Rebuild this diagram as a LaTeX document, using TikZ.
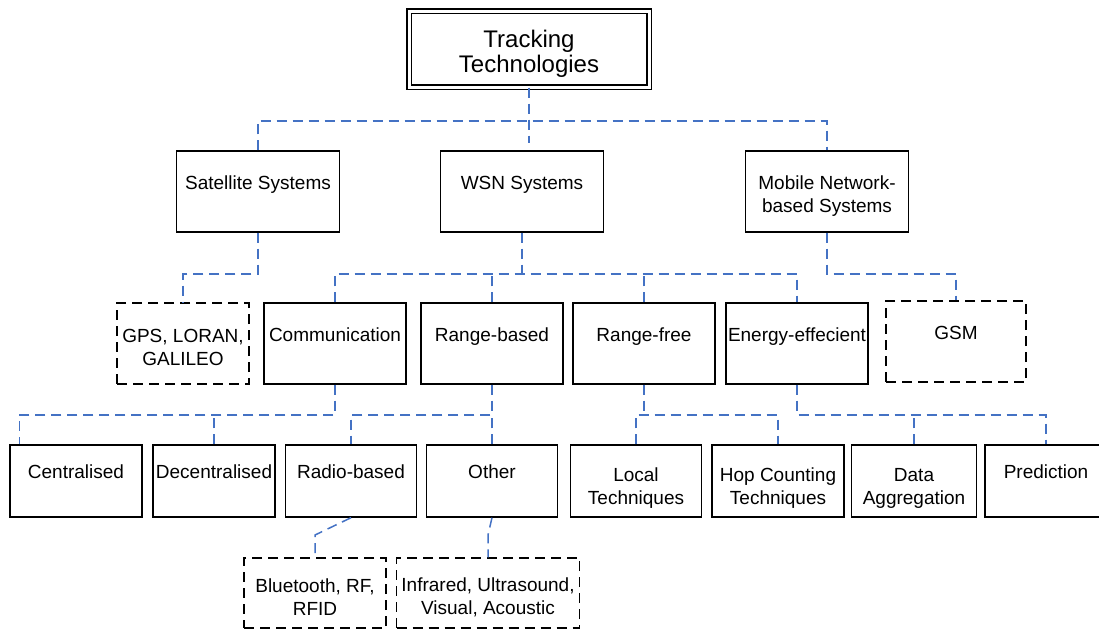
\documentclass[tikz,border=0pt]{standalone}
\usepackage{fontspec}
\setmainfont{Liberation Sans}
\definecolor{linkblue}{RGB}{68,114,196}
\tikzset{
  box/.style={draw, line width=1.4pt, align=center, inner sep=1pt,
    font=\fontsize{19}{23}\selectfont},
  dbox/.style={box, dash pattern=on 10pt off 6pt},
  single/.style={text depth=18pt},
  twolines/.style={text height=45pt},
  link/.style={draw=linkblue, line width=1.5pt, dash pattern=on 10pt off 6pt},
}

\begin{document}
\begin{tikzpicture}[x=1pt, y=-1pt]
            \useasboundingbox (0,0) rectangle (1099,630);

            % Root
            \node[box, double, double distance=3pt, minimum width=240pt, minimum height=76pt,
                  font=\fontsize{24}{25}\selectfont, text height=51pt] (top) at (529,49) {Tracking\\Technologies};

            % First level
            \node[box, single, minimum width=163pt, minimum height=81pt] (sat) at (258,191.5) {Satellite Systems};
            \node[box, single, minimum width=163pt, minimum height=81pt] (wsn) at (522,191.5) {WSN Systems};
            \node[box, twolines, minimum width=163pt, minimum height=81pt] (mob) at (827,191.5) {Mobile Network-\\based Systems};

            % Second level
            \node[dbox, twolines, minimum width=132pt, minimum height=81pt] (gps) at (183,343.5) {GPS, LORAN,\\GALILEO};
            \node[box, single, minimum width=142pt, minimum height=81pt] (comm) at (335,343.5) {Communication};
            \node[box, single, minimum width=142pt, minimum height=81pt] (rb) at (492,343.5) {Range-based};
            \node[box, single, minimum width=142pt, minimum height=81pt] (rf) at (644,343.5) {Range-free};
            \node[box, single, minimum width=142pt, minimum height=81pt] (eng) at (797,343.5) {Energy-effecient};
            \node[dbox, single, minimum width=140pt, minimum height=81pt] (gsm) at (956,341.5) {GSM};

            % Third level
            \node[box, single, minimum width=132pt, minimum height=72pt] (cen) at (76,481) {Centralised};
            \node[box, single, minimum width=122pt, minimum height=72pt] (dec) at (214,481) {Decentralised};
            \node[box, single, minimum width=131pt, minimum height=72pt] (rad) at (351,481) {Radio-based};
            \node[box, single, minimum width=131pt, minimum height=72pt] (oth) at (492,481) {Other};
            \node[box, minimum width=131pt, minimum height=72pt, text height=50pt] (loc) at (636,481) {Local\\Techniques};
            \node[box, minimum width=132pt, minimum height=72pt, text height=50pt] (hop) at (778,481) {Hop Counting\\Techniques};
            \node[box, minimum width=125pt, minimum height=72pt, text height=50pt] (dat) at (914,481) {Data\\Aggregation};
            \node[box, single, minimum width=122pt, minimum height=72pt] (pred) at (1046,481) {Prediction};

            % Fourth level
            \node[dbox, twolines, minimum width=142pt, minimum height=70pt] (bt) at (315,593) {Bluetooth, RF,\\RFID};
            \node[dbox, twolines, minimum width=183pt, minimum height=70pt] (ir) at (488,593) {Infrared, Ultrasound,\\Visual, Acoustic};

            % Bus levels
            \coordinate (b1) at (0,121);
            \coordinate (b2) at (0,274);
            \coordinate (b3) at (0,415);
            \coordinate (b4) at (0,535);
            \coordinate (tend) at (529,143);
            \coordinate (cenx) at ([xshift=10pt]cen.north west);

            % Connectors
            \draw[link] (top.south) -- (tend);
            \draw[link] (sat.north) |- (mob.north |- b1) -- (mob.north);

            \draw[link] (sat.south) -- (sat.south |- b2) -| (gps.north);
            \draw[link] (wsn.south) -- (wsn.south |- b2);
            \draw[link] (comm.north) |- (eng.north |- b2) -- (eng.north);
            \draw[link] (rb.north) -- (rb.north |- b2);
            \draw[link] (rf.north) -- (rf.north |- b2);
            \draw[link] (mob.south) -- (mob.south |- b2) -| (gsm.north);

            \draw[link] (comm.south) -- (comm.south |- b3) -| (cenx);
            \draw[link] (dec.north) -- (dec.north |- b3);
            \draw[link] (rb.south) -- (rb.south |- b3) -| (rad.north);
            \draw[link] (oth.north) -- (oth.north |- b3);
            \draw[link] (rf.south) -- (rf.south |- b3);
            \draw[link] (loc.north) |- (hop.north |- b3) -- (hop.north);
            \draw[link] (eng.south) -- (eng.south |- b3) -| (pred.north);
            \draw[link] (dat.north) -- (dat.north |- b3);

            \draw[link] (rad.south) -- (bt.north |- b4) -- (bt.north);
            \draw[link] (oth.south) -- (ir.north |- b4) -- (ir.north);
        \end{tikzpicture}
\end{document}
